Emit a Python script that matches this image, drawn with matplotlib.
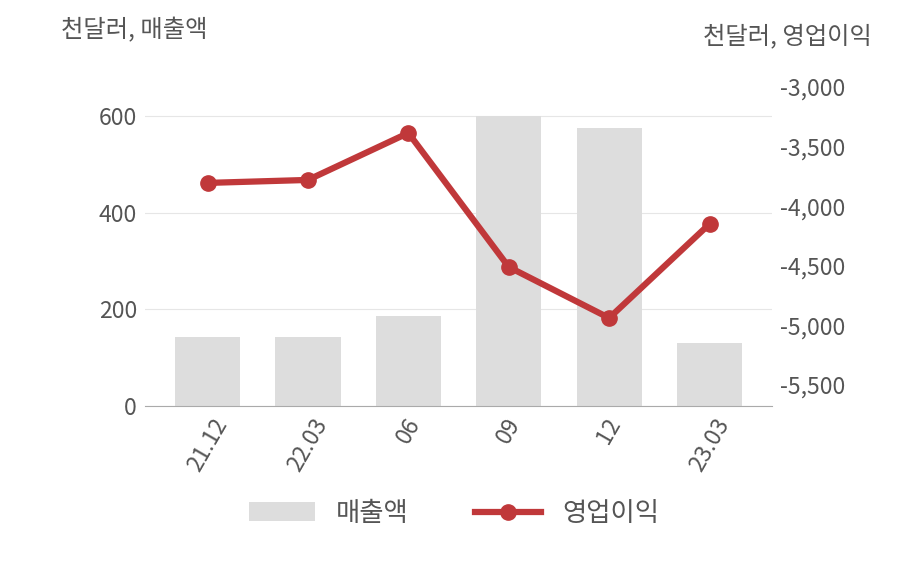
import matplotlib
matplotlib.use("Agg")
import matplotlib.pyplot as plt

plt.rcParams['font.family'] = ['Noto Sans CJK KR', 'DejaVu Sans']

labels = ["21.12", "22.03", "06", "09", "12", "23.03"]
sales = [143, 143, 186, 600, 575, 130]
op_income = [-3805, -3780, -3386, -4510, -4938, -4149]

fig = plt.figure(figsize=(9.08, 5.8), dpi=100)
ax = fig.add_axes([0.16, 0.30, 0.69, 0.583])
x = range(len(labels))

ax.bar(x, sales, width=0.65, color="#dddddd", label="매출액", zorder=2)
ax.set_ylim(0, 700)
ax.set_yticks([0, 200, 400, 600])
ax.set_xlim(-0.62, 5.62)
ax.grid(axis="y", color="#e6e6e6", linewidth=0.8, zorder=0)
ax.set_xticks(list(x))
ax.set_xticklabels(labels, rotation=60, fontsize=16.5, color="#555555")
ax.tick_params(axis="y", labelsize=16.5, colors="#555555", length=0, pad=6)
ax.tick_params(axis="x", length=0, pad=6)
for s in ["top", "right", "left"]:
    ax.spines[s].set_visible(False)
ax.spines["bottom"].set_color("#aaaaaa")

ax2 = ax.twinx()
ax2.plot(x, op_income, color="#c0383a", linewidth=4.5, marker="o", markersize=11,
         label="영업이익", zorder=3)
ax2.set_ylim(-5676, -2840)
ax2.set_yticks([-3000, -3500, -4000, -4500, -5000, -5500])
ax2.set_yticklabels(["-3,000", "-3,500", "-4,000", "-4,500", "-5,000", "-5,500"])
ax2.tick_params(axis="y", labelsize=16.5, colors="#555555", length=0, pad=6)
for s in ax2.spines.values():
    s.set_visible(False)

fig.text(0.067, 0.935, "천달러, 매출액", fontsize=17.5, color="#555555")
fig.text(0.96, 0.925, "천달러, 영업이익", fontsize=17.5, color="#555555", ha="right")

h1, l1 = ax.get_legend_handles_labels()
h2, l2 = ax2.get_legend_handles_labels()
fig.legend(h1 + h2, l1 + l2, loc="center", bbox_to_anchor=(0.5, 0.115), ncol=2,
           frameon=False, fontsize=19, handlelength=2.5, columnspacing=2.5,
           labelcolor="#555555")

fig.savefig("out.png", dpi=100)
